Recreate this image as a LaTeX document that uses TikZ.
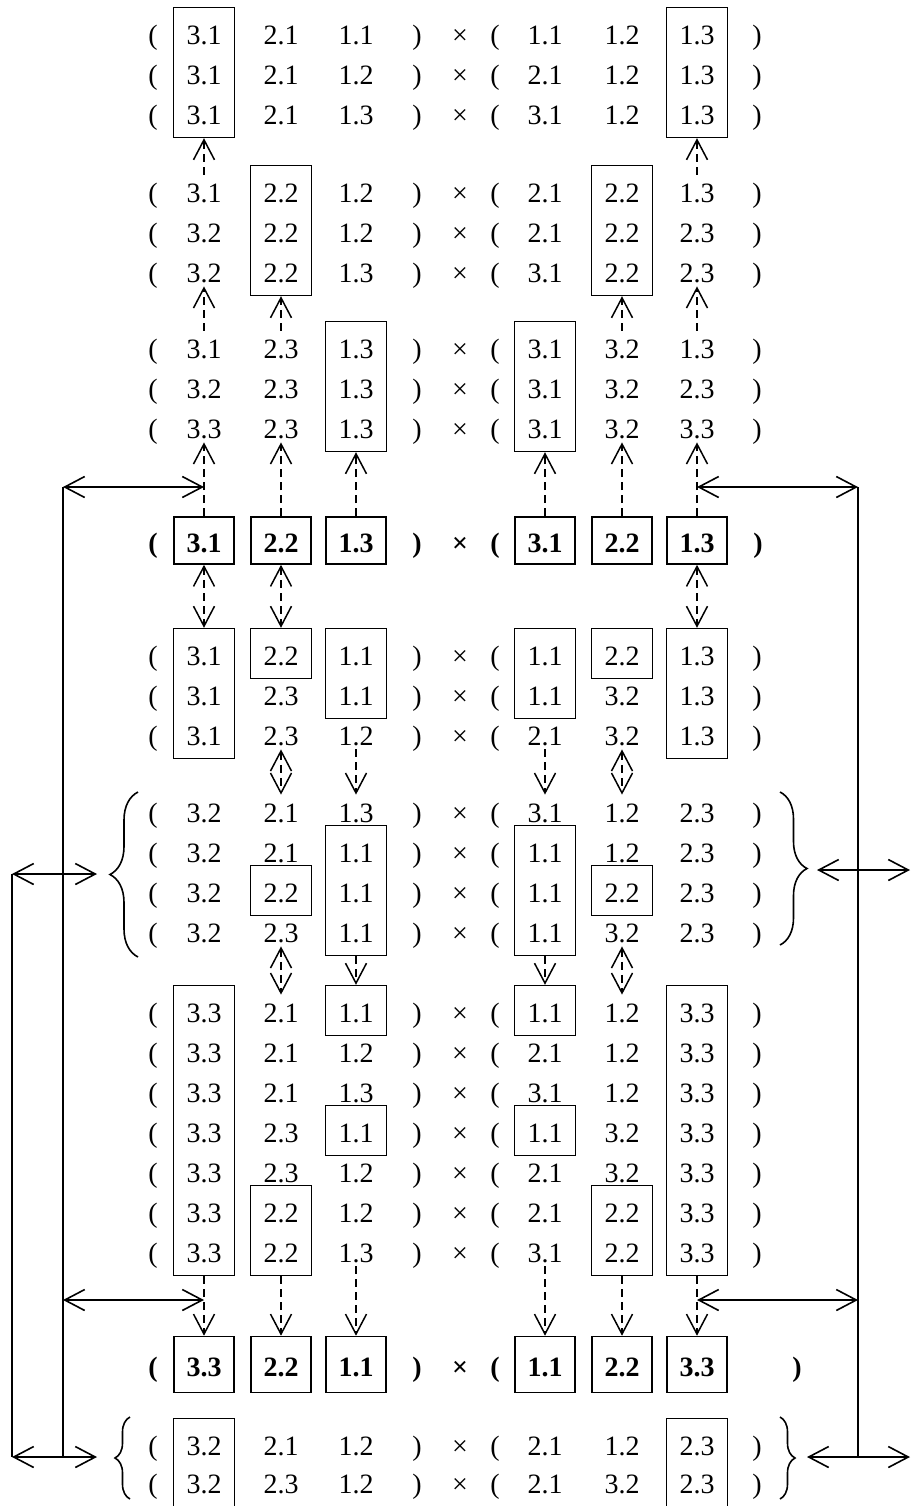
\documentclass[tikz,border=0pt]{standalone}
\usepackage{fontspec}
\setmainfont{Liberation Serif}
\usetikzlibrary{arrows.meta,fit,calc,decorations.pathreplacing}
\newcommand{\nsize}{\fontsize{14pt}{17pt}\selectfont}
\tikzset{
  num/.style={anchor=base, inner sep=0pt, minimum width=30pt, text height=13.5pt, text depth=2pt, font=\nsize},
  sym/.style={anchor=base, inner sep=0pt, font=\nsize},
  bsym/.style={sym, font=\nsize\bfseries},
  bnum/.style={num, draw, line width=0.8pt, inner ysep=4pt, font=\nsize\bfseries},
  box/.style={draw, line width=0.8pt, inner xsep=0pt, inner ysep=4.5pt},
  dar/.style={line width=0.75pt, dash pattern=on 4pt off 2.5pt},
  link/.style={line width=0.8pt},
}
% one product row: name, baseline, six entries
\newcommand{\prow}[8]{%
  \node[sym] (#1-lp) at (153,#2) {(};
  \node[num] (#1-1) at (204,#2) {#3};
  \node[num] (#1-2) at (281,#2) {#4};
  \node[num] (#1-3) at (356,#2) {#5};
  \node[sym] (#1-rp) at (417,#2) {)};
  \node[sym] (#1-x) at (460,#2) {×};
  \node[sym] (#1-lq) at (495,#2) {(};
  \node[num] (#1-4) at (545,#2) {#6};
  \node[num] (#1-5) at (622,#2) {#7};
  \node[num] (#1-6) at (697,#2) {#8};
  \node[sym] (#1-rq) at (757,#2) {)};
}
% bold row: name, baseline, x of closing paren, six entries
\newcommand{\brow}[9]{%
  \node[bsym] (#1-lp) at (153,#2) {(};
  \node[bnum] (#1-1) at (204,#2) {#4};
  \node[bnum] (#1-2) at (281,#2) {#5};
  \node[bnum] (#1-3) at (356,#2) {#6};
  \node[bsym] (#1-rp) at (417,#2) {)};
  \node[bsym] (#1-x) at (460,#2) {×};
  \node[bsym] (#1-lq) at (495,#2) {(};
  \node[bnum] (#1-4) at (545,#2) {#7};
  \node[bnum] (#1-5) at (622,#2) {#8};
  \node[bnum] (#1-6) at (697,#2) {#9};
  \node[bsym] (#1-rq) at (#3,#2) {)};
}
\begin{document}
\begin{tikzpicture}[x=0.5pt, y=-0.5pt, >={Straight Barb[length=10pt,width=10.5pt]}]
  \useasboundingbox (0,0) rectangle (911,1506);

  % upper blocks
  \prow{A1}{44}{3.1}{2.1}{1.1}{1.1}{1.2}{1.3}
  \prow{A2}{84}{3.1}{2.1}{1.2}{2.1}{1.2}{1.3}
  \prow{A3}{124}{3.1}{2.1}{1.3}{3.1}{1.2}{1.3}
  \prow{B1}{202}{3.1}{2.2}{1.2}{2.1}{2.2}{1.3}
  \prow{B2}{242}{3.2}{2.2}{1.2}{2.1}{2.2}{2.3}
  \prow{B3}{282}{3.2}{2.2}{1.3}{3.1}{2.2}{2.3}
  \prow{C1}{358}{3.1}{2.3}{1.3}{3.1}{3.2}{1.3}
  \prow{C2}{398}{3.2}{2.3}{1.3}{3.1}{3.2}{2.3}
  \prow{C3}{438}{3.3}{2.3}{1.3}{3.1}{3.2}{3.3}
  \brow{P}{552}{758}{3.1}{2.2}{1.3}{3.1}{2.2}{1.3}

  % middle blocks
  \prow{D1}{665}{3.1}{2.2}{1.1}{1.1}{2.2}{1.3}
  \prow{D2}{705}{3.1}{2.3}{1.1}{1.1}{3.2}{1.3}
  \prow{D3}{745}{3.1}{2.3}{1.2}{2.1}{3.2}{1.3}
  \prow{E1}{822}{3.2}{2.1}{1.3}{3.1}{1.2}{2.3}
  \prow{E2}{862}{3.2}{2.1}{1.1}{1.1}{1.2}{2.3}
  \prow{E3}{902}{3.2}{2.2}{1.1}{1.1}{2.2}{2.3}
  \prow{E4}{942}{3.2}{2.3}{1.1}{1.1}{3.2}{2.3}

  % lower blocks
  \prow{F1}{1022}{3.3}{2.1}{1.1}{1.1}{1.2}{3.3}
  \prow{F2}{1062}{3.3}{2.1}{1.2}{2.1}{1.2}{3.3}
  \prow{F3}{1102}{3.3}{2.1}{1.3}{3.1}{1.2}{3.3}
  \prow{F4}{1142}{3.3}{2.3}{1.1}{1.1}{3.2}{3.3}
  \prow{F5}{1182}{3.3}{2.3}{1.2}{2.1}{3.2}{3.3}
  \prow{F6}{1222}{3.3}{2.2}{1.2}{2.1}{2.2}{3.3}
  \prow{F7}{1262}{3.3}{2.2}{1.3}{3.1}{2.2}{3.3}
  \begin{scope}[bnum/.append style={inner ysep=6.25pt}]
    \brow{Q}{1376}{797}{3.3}{2.2}{1.1}{1.1}{2.2}{3.3}
  \end{scope}
  \prow{G1}{1455}{3.2}{2.1}{1.2}{2.1}{1.2}{2.3}
  \prow{G2}{1493}{3.2}{2.3}{1.2}{2.1}{3.2}{2.3}

  % boxes
  \node[box, fit=(A1-1)(A3-1)] (boxA1) {};
  \node[box, fit=(A1-6)(A3-6)] (boxA6) {};
  \node[box, fit=(B1-2)(B3-2)] (boxB2) {};
  \node[box, fit=(B1-5)(B3-5)] (boxB5) {};
  \node[box, fit=(C1-3)(C3-3)] (boxC3) {};
  \node[box, fit=(C1-4)(C3-4)] (boxC4) {};
  \node[box, fit=(D1-1)(D3-1)] (boxD1) {};
  \node[box, fit=(D1-2)] (boxD2) {};
  \node[box, fit=(D1-3)(D2-3)] (boxD3) {};
  \node[box, fit=(D1-4)(D2-4)] (boxD4) {};
  \node[box, fit=(D1-5)] (boxD5) {};
  \node[box, fit=(D1-6)(D3-6)] (boxD6) {};
  \node[box, fit=(E3-2)] (boxE2) {};
  \node[box, fit=(E2-3)(E4-3)] (boxE3) {};
  \node[box, fit=(E2-4)(E4-4)] (boxE4) {};
  \node[box, fit=(E3-5)] (boxE5) {};
  \node[box, fit=(F1-1)(F7-1)] (boxF1) {};
  \node[box, fit=(F6-2)(F7-2)] (boxF2) {};
  \node[box, fit=(F1-3)] (boxF3a) {};
  \node[box, fit=(F4-3)] (boxF3b) {};
  \node[box, fit=(F1-4)] (boxF4a) {};
  \node[box, fit=(F4-4)] (boxF4b) {};
  \node[box, fit=(F6-5)(F7-5)] (boxF5) {};
  \node[box, fit=(F1-6)(F7-6)] (boxF6) {};
  \node[box, fit=(G1-1)(G2-1)] (boxG1) {};
  \node[box, fit=(G1-6)(G2-6)] (boxG6) {};

  % dashed links
  \draw[dar,->] (B1-1.north) -- (boxA1.south);
  \draw[dar,->] (B1-6.north) -- (boxA6.south);
  \draw[dar,->] (C1-1.north) -- (B3-1.south);
  \draw[dar,->] (C1-2.north) -- (boxB2.south);
  \draw[dar,->] (C1-5.north) -- (boxB5.south);
  \draw[dar,->] (C1-6.north) -- (B3-6.south);
  \draw[dar,->] (P-1.north) -- (C3-1.south);
  \draw[dar,->] (P-2.north) -- (C3-2.south);
  \draw[dar,->] (P-3.north) -- (boxC3.south);
  \draw[dar,->] (P-4.north) -- (boxC4.south);
  \draw[dar,->] (P-5.north) -- (C3-5.south);
  \draw[dar,->] (P-6.north) -- (C3-6.south);
  \draw[dar,<->] (P-1.south) -- (boxD1.north);
  \draw[dar,<->] (P-2.south) -- (boxD2.north);
  \draw[dar,<->] (P-6.south) -- (boxD6.north);
  \draw[dar,<->] (D3-2.south) -- (E1-2.north);
  \draw[dar,->] (D3-3.south) -- (E1-3.north);
  \draw[dar,->] (D3-4.south) -- (E1-4.north);
  \draw[dar,<->] (D3-5.south) -- (E1-5.north);
  \draw[dar,<->] (E4-2.south) -- (F1-2.north);
  \draw[dar,->] (boxE3.south) -- (boxF3a.north);
  \draw[dar,->] (boxE4.south) -- (boxF4a.north);
  \draw[dar,<->] (E4-5.south) -- (F1-5.north);
  \draw[dar,->] (boxF1.south) -- (Q-1.north);
  \draw[dar,->] (boxF2.south) -- (Q-2.north);
  \draw[dar,->] (F7-3.south) -- (Q-3.north);
  \draw[dar,->] (F7-4.south) -- (Q-4.north);
  \draw[dar,->] (boxF5.south) -- (Q-5.north);
  \draw[dar,->] (boxF6.south) -- (Q-6.north);

  % braces
  \draw[link, decorate, decoration={brace, amplitude=14pt}] (138,957) -- (138,792);
  \draw[link, decorate, decoration={brace, amplitude=13.5pt}] (780,792) -- (780,945);
  \draw[link, decorate, decoration={brace, amplitude=7.5pt}] (130,1499) -- (130,1417);
  \draw[link, decorate, decoration={brace, amplitude=7.5pt}] (780,1417) -- (780,1499);

  % side connectors
  \coordinate (L1) at (63,487);
  \coordinate (L2) at (63,1300);
  \coordinate (L3) at (63,1457);
  \coordinate (R1) at (858,487);
  \coordinate (R2) at (858,1300);
  \coordinate (R3) at (858,1457);
  \coordinate (K1) at (12,874);
  \coordinate (K2) at (12,1457);
  \coordinate (bEL) at (97,874);
  \coordinate (bGL) at (97,1457);
  \coordinate (bER) at (817,870);
  \coordinate (bGR) at (807,1457);
  \coordinate (S1) at (910,870);
  \coordinate (S2) at (910,1457);

  \draw[link,<->] (L1) -- (P-1.north |- L1);
  \draw[link,<->] (L2) -- (Q-1.north |- L2);
  \draw[link] (L1) -- (L3);
  \draw[link,<->] (P-6.north |- R1) -- (R1);
  \draw[link,<->] (Q-6.north |- R2) -- (R2);
  \draw[link] (R1) -- (R3);
  \draw[link] (K1) -- (K2);
  \draw[link,<->] (K1) -- (bEL);
  \draw[link,<->] (K2) -- (bGL);
  \draw[link,<->] (bER) -- (S1);
  \draw[link,<->] (bGR) -- (S2);
\end{tikzpicture}
\end{document}
